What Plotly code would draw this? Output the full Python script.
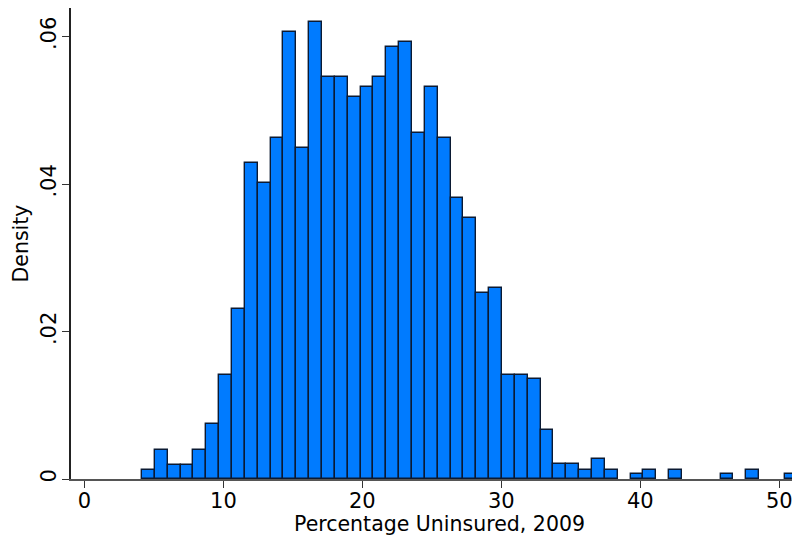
import plotly.graph_objects as go

# Histogram of county-level percentage uninsured, 2009 (density scale)
bin_start = 4.147
bin_width = 0.925
density = [
    0.00126, 0.00396, 0.00194, 0.00194, 0.00396, 0.0074, 0.01417, 0.02304,
    0.04286, 0.04015, 0.04628, 0.06058, 0.04493, 0.06192, 0.05448, 0.05448,
    0.05177, 0.05313, 0.05448, 0.05854, 0.05922, 0.04695, 0.05313, 0.04628,
    0.03811, 0.0354, 0.02517, 0.02585, 0.01416, 0.01416, 0.01353, 0.00671,
    0.00198, 0.00198, 0.00126, 0.00265, 0.00126, 0.0, 0.00062, 0.00128,
    0.0, 0.00128, 0.0, 0.0, 0.0, 0.00062, 0.0, 0.00128, 0.0, 0.0, 0.00062,
]
x_ticks = [0, 10, 20, 30, 40, 50]
y_ticks = [0, 0.02, 0.04, 0.06]
y_tick_labels = ["0", ".02", ".04", ".06"]
x_title = "Percentage Uninsured, 2009"
y_title = "Density"

centers = [bin_start + (i + 0.5) * bin_width for i in range(len(density))]
xs = [c for c, d in zip(centers, density) if d > 0]
ys = [d for d in density if d > 0]

fig = go.Figure(
    go.Bar(
        x=xs,
        y=ys,
        width=bin_width,
        marker=dict(color="#007BFF", line=dict(color="#0b1a33", width=1.4)),
    )
)

font = "DejaVu Sans"
# page body has an 8px default margin, so the figure is sized to fit the window
fig.update_layout(
    width=792,
    height=531,
    margin=dict(l=63, r=0, t=0, b=60, autoexpand=False),
    plot_bgcolor="white",
    paper_bgcolor="white",
    showlegend=False,
    bargap=0,
    font=dict(family=font, size=20, color="black"),
    annotations=[
        dict(text=x_title, xref="paper", yref="paper", x=0.506, y=0,
             xanchor="center", yanchor="top", yshift=-31, showarrow=False,
             font=dict(family=font, size=20.5, color="black")),
        dict(text=y_title, xref="paper", yref="paper", x=-0.0686, y=0.5,
             xanchor="center", yanchor="middle", textangle=-90, showarrow=False,
             font=dict(family=font, size=20.5, color="black")),
    ],
)
fig.update_xaxes(
    range=[-0.965, 51.49],
    tickvals=x_ticks,
    ticks="outside",
    ticklen=7,
    tickcolor="#333",
    showline=True,
    linecolor="#555",
    linewidth=1.5,
    mirror=True,
    showgrid=False,
    zeroline=False,
    automargin=False,
    ticklabelstandoff=-5,
    tickfont=dict(family=font, size=21),
)
fig.update_yaxes(
    range=[0, 0.06387],
    tickvals=y_ticks,
    ticktext=y_tick_labels,
    tickangle=-90,
    ticks="outside",
    ticklen=7,
    tickcolor="#333",
    showline=True,
    linecolor="#222",
    linewidth=1.5,
    showgrid=False,
    zeroline=False,
    automargin=False,
    ticklabelstandoff=-2,
    tickfont=dict(family=font, size=21),
)

fig.write_html("out.html")
